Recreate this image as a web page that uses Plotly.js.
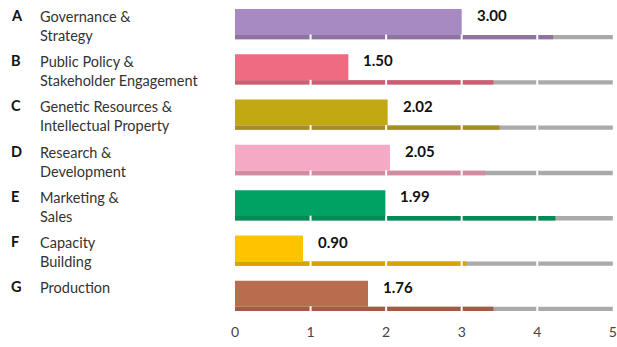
<!DOCTYPE html>
<html>
<head>
<meta charset="utf-8">
<script src="https://cdn.plot.ly/plotly-3.0.1.min.js"></script>
<style>html,body{margin:0;padding:0;background:#fff;}#chart{width:617px;height:347px;}</style>
</head>
<body>
<div id="chart"></div>
<script>
const letters = ['A','B','C','D','E','F','G'];
const names = ['Governance &<br>Strategy','Public Policy &<br>Stakeholder Engagement','Genetic Resources &<br>Intellectual Property','Research &<br>Development','Marketing &<br>Sales','Capacity<br>Building','Production'];
const scores = [3.00,1.50,2.02,2.05,1.99,0.90,1.76];
const targets = [4.21,3.42,3.50,3.31,4.24,3.06,3.42];
const maxScore = 5;
const tickVals = [0,1,2,3,4,5];
const mainColors = ['#a78ac1','#ee6b82','#c2a813','#f4a9c4','#00a264','#ffc300','#b86d4e'];
const thinColors = ['#8e72a0','#cf5c70','#a88c26','#d38ba0','#008a55','#d6a300','#a35c41'];
const grayColor = '#aaaaaa';

const thickOff = -0.412, thickW = 0.574, thinOff = 0.162, thinW = 0.095;

const traces = [
  {type:'bar', orientation:'h', y:letters, x:letters.map(()=>maxScore), offset:thinOff, width:thinW,
   marker:{color:grayColor, line:{width:0}}, hoverinfo:'skip', cliponaxis:false},
  {type:'bar', orientation:'h', y:letters, x:targets, offset:thinOff, width:thinW,
   marker:{color:thinColors, line:{width:0}}, hoverinfo:'skip'},
  {type:'bar', orientation:'h', y:letters, x:scores, offset:thickOff, width:thickW,
   marker:{color:mainColors, line:{width:0}}, hoverinfo:'skip'}
];

const shapes = [];
letters.forEach((l,i)=>{
  tickVals.filter(v=>v>0 && v<maxScore).forEach(v=>{
    shapes.push({type:'line', xref:'x', yref:'y', x0:v, x1:v, y0:i+thinOff-0.01, y1:i+thinOff+thinW+0.01,
      line:{color:'#ffffff', width:2}, layer:'above'});
  });
});

const annotations = [];
letters.forEach((l,i)=>{
  annotations.push({xref:'paper', yref:'y', x:0, y:i, xanchor:'left', yanchor:'middle', xshift:-226, yshift:12.5,
    text:'<b>'+l+'</b>', showarrow:false, font:{family:'Lato, sans-serif', size:14.5, color:'#111'}});
  annotations.push({xref:'paper', yref:'y', x:0, y:i, xanchor:'left', yanchor:'top', xshift:-197, yshift:22,
    text:names[i], align:'left', showarrow:false, font:{family:'Lato, sans-serif', size:14.5, color:'#333'}});
  annotations.push({xref:'x', yref:'y', x:scores[i], y:i, xanchor:'left', yanchor:'middle', xshift:13, yshift:12.5,
    text:'<b>'+scores[i].toFixed(2)+'</b>', showarrow:false, font:{family:'Lato, sans-serif', size:15, color:'#111'}});
});

const layout = {
  width:617, height:347,
  margin:{l:235, r:4, t:5, b:25},
  paper_bgcolor:'#fff', plot_bgcolor:'#fff',
  barmode:'overlay', showlegend:false,
  font:{family:'Lato, sans-serif'},
  xaxis:{range:[0,maxScore*1.0005], tickvals:tickVals, ticktext:tickVals.map(String), showgrid:false, zeroline:false,
    showline:false, ticks:'', tickfont:{family:'Lato, sans-serif', size:14, color:'#444'}, fixedrange:true},
  yaxis:{type:'category', categoryarray:letters, range:[6.5,-0.5], showticklabels:false, showgrid:false,
    zeroline:false, showline:false, ticks:'', fixedrange:true},
  shapes:shapes,
  annotations:annotations
};

Plotly.newPlot('chart', traces, layout, {displayModeBar:false, staticPlot:true});
</script>
</body>
</html>
